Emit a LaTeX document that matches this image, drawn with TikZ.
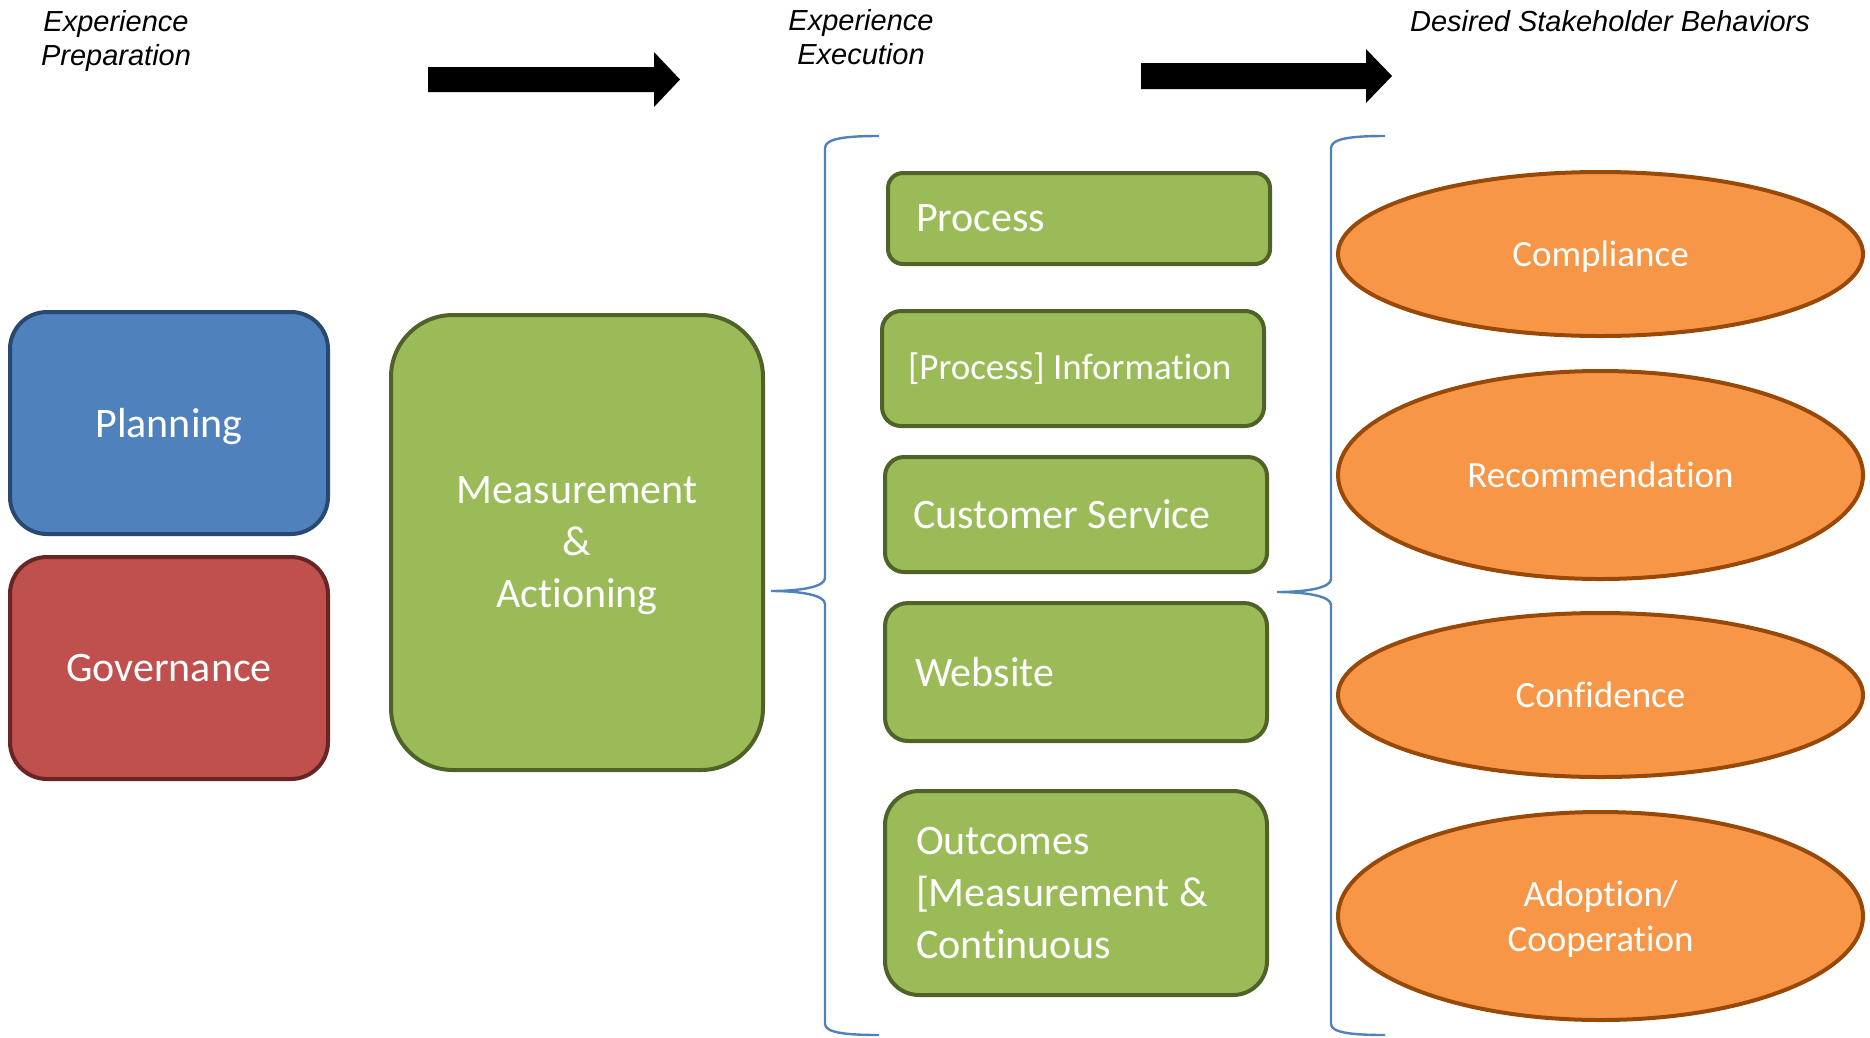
\documentclass[tikz,border=0pt]{standalone}
\usepackage{fontspec}
\setmainfont{Carlito}[Ligatures=NoCommon]
\newfontfamily\hdrfont{Liberation Sans}
\usetikzlibrary{shapes.geometric}

\definecolor{planfill}{HTML}{4F81BD}
\definecolor{planline}{HTML}{294A70}
\definecolor{govfill}{HTML}{C0504D}
\definecolor{govline}{HTML}{682523}
\definecolor{grnfill}{HTML}{9BBB59}
\definecolor{grnline}{HTML}{4F6228}
\definecolor{orgfill}{HTML}{F79646}
\definecolor{orgline}{HTML}{984807}
\definecolor{bracecol}{HTML}{4F81BD}

% Calibri-like body text with its natural word spacing
\newcommand{\bodyfont}[2]{\fontsize{#1}{#2}\selectfont\spaceskip=0.226em plus 0.05em minus 0.03em\relax}

\tikzset{
  heading/.style={font=\hdrfont\itshape\fontsize{29}{34}\selectfont, align=center, inner sep=0pt},
  block/.style={draw, line width=4pt, text=white, inner sep=0pt,
    font=\bodyfont{42}{52}},
  centerblock/.style={block, align=center, text depth=0pt},
  listblock/.style={block, fill=grnfill, draw=grnline, minimum width=382pt,
    text width=326pt, align=flush left},
  goal/.style={ellipse, draw=orgline, fill=orgfill, line width=4pt, text=white,
    inner sep=0pt, minimum width=525pt, text depth=0pt,
    font=\bodyfont{37}{45}, align=center},
  bigarrow/.style={fill=black},
  bracket/.style={draw=bracecol, line width=2.4pt},
}

\begin{document}
\begin{tikzpicture}[x=1pt, y=-1pt]
  \useasboundingbox (0,0) rectangle (1870,1037);

  % column headings
  \node[heading] (hprep) at (116,41) {Experience\\Preparation};
  \node[heading] (hexec) at (861,37) {Experience\\Execution};
  \node[heading] (hdes) at (1610,21) {Desired Stakeholder Behaviors};

  % block arrows between the headings
  \fill[bigarrow] (428,67) -- (654,67) -- (654,52) -- (680,79.5) -- (654,107)
    -- (654,92) -- (428,92) -- cycle;
  \fill[bigarrow] (1141,63) -- (1366,63) -- (1366,49) -- (1392,76) -- (1366,103)
    -- (1366,89) -- (1141,89) -- cycle;

  % preparation
  \node[centerblock, fill=planfill, draw=planline, rounded corners=37pt,
    minimum width=318pt, minimum height=222pt] (plan) at (169,423) {Planning};
  \node[centerblock, fill=govfill, draw=govline, rounded corners=37pt,
    minimum width=318pt, minimum height=222pt] (gov) at (169,668) {Governance};
  \node[centerblock, fill=grnfill, draw=grnline, rounded corners=62pt,
    minimum width=372pt, minimum height=455pt, text depth=-4pt] (meas) at (577,542.5)
    {Measurement\\\&\\Actioning};

  % execution
  \node[listblock, rounded corners=15pt, minimum height=91pt] (proc) at (1079,218.5) {Process};
  \node[listblock, rounded corners=19pt, minimum height=115pt, text width=330pt,
    font=\bodyfont{37}{45}] (info) at (1073,368.5) {[Process] Information};
  \node[listblock, rounded corners=19pt, minimum height=115pt] (cs) at (1076,514.5) {Customer Service};
  \node[listblock, rounded corners=23pt, minimum height=138pt, text width=322pt] (web) at (1076,672) {Website};
  \node[listblock, rounded corners=34pt, minimum height=204pt, text width=320pt] (out) at (1076,893)
    {Outcomes\\{[}Measurement \&\\Continuous};

  % behaviours
  \node[goal, minimum height=164pt] (comp) at (1600.5,254) {Compliance};
  \node[goal, minimum height=208pt] (rec) at (1600.5,475) {Recommendation};
  \node[goal, minimum height=164pt] (conf) at (1600.5,695) {Confidence};
  \node[goal, minimum height=208pt] (adopt) at (1600.5,916) {Adoption/\\Cooperation};

  % curly brackets grouping each column
  \coordinate (lbtop) at (879,136);
  \coordinate (lbtip) at (771,591);
  \coordinate (lbbot) at (879,1035);
  \draw[bracket] (lbtop) .. controls (848,136) and (825,138) .. (825,148)
    -- (825,578) .. controls (825,587) and (800,591) .. (lbtip)
    .. controls (800,591) and (825,595) .. (825,604)
    -- (825,1024) .. controls (825,1033) and (848,1035) .. (lbbot);

  \coordinate (rbtop) at (1385,136);
  \coordinate (rbtip) at (1277,592);
  \coordinate (rbbot) at (1385,1035);
  \draw[bracket] (rbtop) .. controls (1354,136) and (1331,138) .. (1331,148)
    -- (1331,579) .. controls (1331,588) and (1306,592) .. (rbtip)
    .. controls (1306,592) and (1331,596) .. (1331,605)
    -- (1331,1024) .. controls (1331,1033) and (1354,1035) .. (rbbot);
\end{tikzpicture}
\end{document}
